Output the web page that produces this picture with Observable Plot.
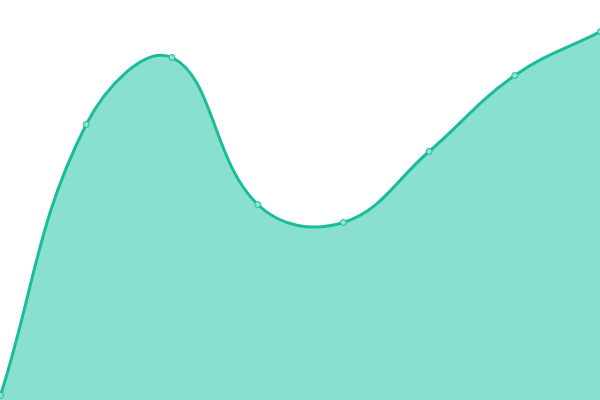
<!DOCTYPE html>
<html>
<head>
<meta charset="utf-8">
<script src="https://cdn.jsdelivr.net/npm/d3@7"></script>
<script src="https://cdn.jsdelivr.net/npm/@observablehq/plot@0.6"></script>
<style>
  html, body { margin: 0; padding: 0; background: #fff; overflow: hidden; }
  #chart svg { display: block; }
</style>
</head>
<body>
<div id="chart"></div>
<script>
const categories = [0, 1, 2, 3, 4, 5, 6, 7];
const values = [5, 276, 343, 196, 178, 249, 325, 369];

const data = categories.map((c, i) => ({x: c, y: values[i]}));

// Tension spline (distance-weighted cardinal), used as a d3 curve factory
function tensionCurve(t) {
  return function(context) {
    let pts = [], line;
    function draw() {
      const n = pts.length;
      if (!n) return;
      if (line) context.lineTo(pts[0][0], pts[0][1]);
      else context.moveTo(pts[0][0], pts[0][1]);
      const cpPrev = [], cpNext = [];
      for (let i = 0; i < n; i++) {
        const cur = pts[i], prev = pts[i - 1] || cur, next = pts[i + 1] || cur;
        const d01 = Math.hypot(cur[0] - prev[0], cur[1] - prev[1]);
        const d12 = Math.hypot(next[0] - cur[0], next[1] - cur[1]);
        let s01 = d01 / (d01 + d12), s12 = d12 / (d01 + d12);
        if (isNaN(s01)) s01 = 0;
        if (isNaN(s12)) s12 = 0;
        const fa = t * s01, fb = t * s12;
        cpPrev[i] = [cur[0] - fa * (next[0] - prev[0]), cur[1] - fa * (next[1] - prev[1])];
        cpNext[i] = [cur[0] + fb * (next[0] - prev[0]), cur[1] + fb * (next[1] - prev[1])];
      }
      for (let i = 1; i < n; i++) {
        context.bezierCurveTo(cpNext[i - 1][0], cpNext[i - 1][1], cpPrev[i][0], cpPrev[i][1], pts[i][0], pts[i][1]);
      }
    }
    return {
      areaStart() { line = 0; },
      areaEnd() { line = NaN; },
      lineStart() { pts = []; },
      point(x, y) { pts.push([+x, +y]); },
      lineEnd() {
        draw();
        if (line || (line !== 0 && pts.length === 1)) context.closePath();
        line = 1 - line;
      }
    };
  };
}
const curve = tensionCurve(0.4);

const chart = Plot.plot({
  width: 600,
  height: 400,
  margin: 0,
  x: {domain: [0, 7], axis: null},
  y: {domain: [0, 400], axis: null},
  marks: [
    Plot.areaY(data, {x: "x", y: "y", curve, fill: "#8ae0cf"}),
    Plot.lineY(data, {x: "x", y: "y", curve, stroke: "#1abc9c", strokeWidth: 3}),
    Plot.dot(data, {x: "x", y: "y", r: 3, fill: "#8ee3d1", stroke: "#1abc9c", strokeWidth: 1})
  ]
});
document.getElementById("chart").appendChild(chart);
</script>
</body>
</html>
